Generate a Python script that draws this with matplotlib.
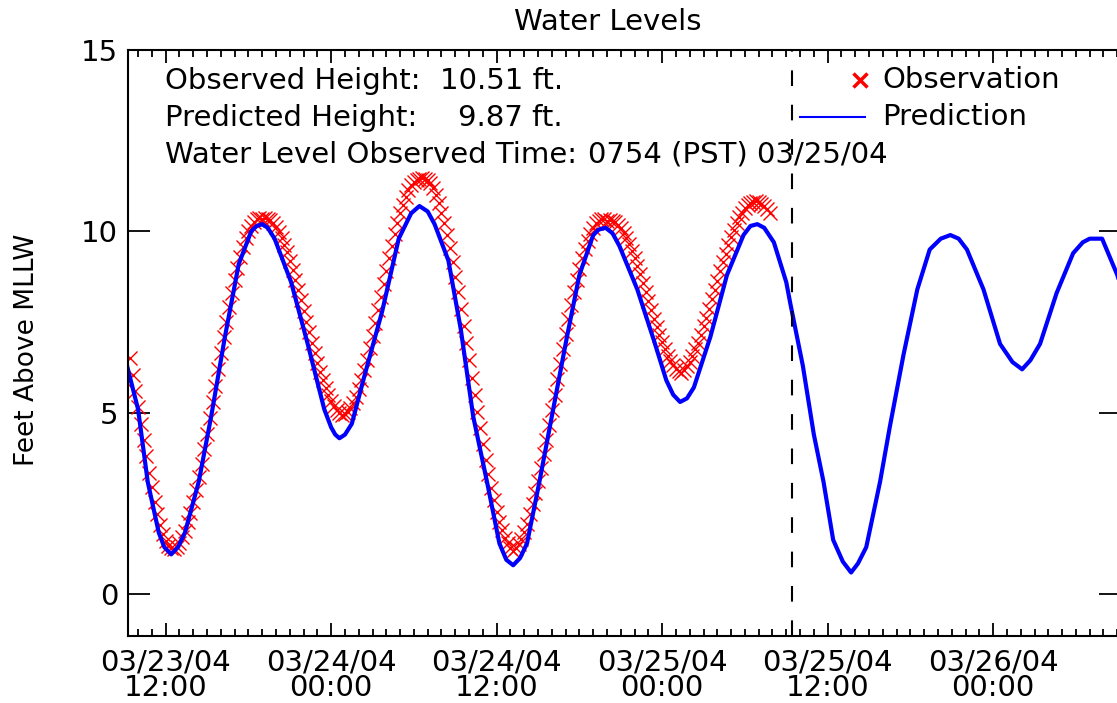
import matplotlib.pyplot as plt
import numpy as np
from matplotlib.lines import Line2D
from matplotlib.ticker import FixedLocator, MultipleLocator

# time axis: hours since 03/23/04 00:00 PST
pred_hours = [9.2, 10.0, 10.7, 11.5, 11.9, 12.4, 12.9, 13.4, 14.4, 15.3,
              16.3, 17.3, 18.2, 18.6, 19.0, 19.4, 19.9, 21.1, 22.3, 23.5,
              24.0, 24.3, 24.6, 25.0, 25.5, 26.4, 27.7, 28.9, 29.8, 30.4,
              31.0, 31.5, 32.5, 33.4, 34.3, 35.3, 36.2, 36.7, 37.2, 37.7,
              38.2, 39.1, 40.1, 41.1, 42.0, 43.0, 43.4, 43.9, 44.4, 44.9,
              46.2, 47.4, 48.3, 48.8, 49.3, 49.8, 50.3, 51.5, 52.7, 53.9,
              54.4, 54.9, 55.4, 56.1, 57.0, 57.3, 58.2, 59.0, 59.7, 60.4,
              61.1, 61.7, 62.2, 62.8, 63.8, 64.5, 65.5, 66.5, 67.4, 68.2,
              68.9, 69.5, 70.1, 71.3, 72.5, 73.4, 74.1, 74.7, 75.4, 76.6,
              77.8, 78.5, 79.0, 79.9, 81.0, 81.4]
pred_ft = [6.3, 5.1, 3.1, 1.7, 1.3, 1.1, 1.3, 1.7, 3.1, 4.9,
           7.1, 9.1, 10.0, 10.15, 10.2, 10.1, 9.8, 8.6, 6.9, 5.1,
           4.6, 4.4, 4.3, 4.4, 4.7, 6.0, 7.8, 9.8, 10.5, 10.7,
           10.55, 10.2, 9.2, 7.3, 4.9, 3.1, 1.4, 0.95, 0.8, 1.0,
           1.4, 3.1, 5.1, 7.1, 8.8, 9.9, 10.05, 10.1, 9.95, 9.6,
           8.4, 7.0, 5.9, 5.5, 5.3, 5.4, 5.7, 7.1, 8.8, 9.9,
           10.15, 10.2, 10.1, 9.7, 8.6, 8.0, 6.3, 4.4, 3.1, 1.5,
           0.9, 0.6, 0.85, 1.3, 3.1, 4.6, 6.6, 8.4, 9.5, 9.8,
           9.9, 9.8, 9.5, 8.4, 6.9, 6.4, 6.2, 6.45, 6.9, 8.3,
           9.4, 9.7, 9.8, 9.8, 8.8, 8.3]

# observations, one every 12 minutes from 09:24 on 03/23
obs_start = 9.4
obs_step = 0.2
obs_ft = [6.50, 6.05, 5.60, 5.15, 4.70, 4.25, 3.80, 3.35, 2.95, 2.55,
          2.20, 1.90, 1.65, 1.47, 1.34, 1.27, 1.25, 1.31, 1.42, 1.57,
          1.75, 1.98, 2.23, 2.53, 2.86, 3.23, 3.60, 4.01, 4.43, 4.86,
          5.30, 5.75, 6.20, 6.65, 7.08, 7.50, 7.91, 8.29, 8.66, 8.99,
          9.30, 9.57, 9.81, 10.00, 10.15, 10.27, 10.33, 10.37, 10.35, 10.36,
          10.35, 10.31, 10.23, 10.11, 9.98, 9.82, 9.63, 9.42, 9.18, 8.93,
          8.66, 8.39, 8.10, 7.80, 7.51, 7.22, 6.93, 6.66, 6.38, 6.13,
          5.90, 5.68, 5.49, 5.33, 5.19, 5.07, 5.00, 4.95, 4.97, 5.03,
          5.13, 5.27, 5.45, 5.66, 5.90, 6.17, 6.46, 6.79, 7.13, 7.48,
          7.84, 8.20, 8.56, 8.92, 9.27, 9.61, 9.94, 10.23, 10.50, 10.74,
          10.95, 11.13, 11.27, 11.37, 11.43, 11.45, 11.46, 11.45, 11.42, 11.33,
          11.19, 11.01, 10.77, 10.52, 10.22, 9.90, 9.54, 9.15, 8.74, 8.32,
          7.86, 7.40, 6.93, 6.45, 5.97, 5.49, 5.03, 4.58, 4.13, 3.71,
          3.31, 2.93, 2.59, 2.28, 2.00, 1.76, 1.55, 1.40, 1.28, 1.20,
          1.28, 1.39, 1.53, 1.72, 1.94, 2.20, 2.48, 2.78, 3.12, 3.49,
          3.86, 4.26, 4.66, 5.07, 5.50, 5.93, 6.35, 6.77, 7.18, 7.59,
          7.96, 8.32, 8.66, 8.97, 9.26, 9.52, 9.74, 9.94, 10.10, 10.22,
          10.29, 10.33, 10.34, 10.30, 10.32, 10.30, 10.26, 10.19, 10.10, 9.97,
          9.82, 9.66, 9.47, 9.26, 9.05, 8.82, 8.57, 8.33, 8.08, 7.84,
          7.60, 7.37, 7.14, 6.94, 6.75, 6.58, 6.43, 6.32, 6.22, 6.14,
          6.10, 6.18, 6.28, 6.41, 6.56, 6.75, 6.93, 7.15, 7.38, 7.62,
          7.87, 8.13, 8.38, 8.64, 8.90, 9.15, 9.39, 9.63, 9.85, 10.04,
          10.23, 10.39, 10.52, 10.64, 10.73, 10.79, 10.82, 10.83, 10.80, 10.75,
          10.70, 10.62, 10.52]

now_hour = 57.42
tick_hours = [12, 24, 36, 48, 60, 72]
tick_labels = ['03/23/04\n12:00', '03/24/04\n00:00', '03/24/04\n12:00',
               '03/25/04\n00:00', '03/25/04\n12:00', '03/26/04\n00:00']

obs_hours = obs_start + obs_step * np.arange(len(obs_ft))

plt.rcParams['font.family'] = 'DejaVu Sans'
W, H = 1117, 703
fig = plt.figure(figsize=(W / 100, H / 100), dpi=100)
fig.set_facecolor('w')
ax = fig.add_axes([128 / W, 67 / H, 993 / W, 586 / H])

ax.plot(obs_hours, obs_ft, 'x', color='red', ms=10, mew=1.0)
ax.plot(pred_hours, pred_ft, color='blue', lw=3)
ax.axvline(now_hour, color='black', lw=1.5, ls=(0, (7.5, 9)))

ax.set_xlim(9.27, 81.27)
ax.set_ylim(-1.15, 15)
ax.xaxis.set_major_locator(FixedLocator(tick_hours))
ax.set_xticklabels(tick_labels, linespacing=0.9)
ax.xaxis.set_minor_locator(MultipleLocator(1))
ax.set_yticks([0, 5, 10, 15])
ax.tick_params(axis='x', which='major', direction='in', length=9.5,
               width=1.3, top=True, labelsize=21, pad=9)
ax.tick_params(axis='x', which='minor', direction='in', length=5,
               width=1.3, top=True)
ax.tick_params(axis='y', direction='in', length=16, width=1.3,
               right=True, labelsize=21, pad=7)
for s in ax.spines.values():
    s.set_linewidth(1.5)

fig.text(608 / W, 1 - 22 / H, 'Water Levels', ha='center', va='center',
         fontsize=21)
fig.text(27 / W, 1 - 350 / H, 'Feet Above MLLW', rotation=90, ha='center',
         va='center', fontsize=19)

fig.text(165 / W, 1 - 81 / H, 'Observed Height:', va='center', fontsize=21)
fig.text(563 / W, 1 - 81 / H, '10.51 ft.', ha='right', va='center',
         fontsize=21)
fig.text(165 / W, 1 - 118 / H, 'Predicted Height:', va='center', fontsize=21)
fig.text(563 / W, 1 - 118 / H, '9.87 ft.', ha='right', va='center',
         fontsize=21)
fig.text(165 / W, 1 - 155 / H, 'Water Level Observed Time:', va='center',
         fontsize=21)
fig.text(588 / W, 1 - 155 / H, '0754 (PST) 03/25/04', va='center',
         fontsize=21)

# legend drawn by hand, IDL style
fig.add_artist(Line2D([860 / W], [1 - 80 / H], marker='x', color='red',
                      ms=10, mew=2.5, ls='none', transform=fig.transFigure))
fig.add_artist(Line2D([800 / W, 865 / W], [1 - 117 / H, 1 - 117 / H],
                      color='blue', lw=1.5, transform=fig.transFigure))
fig.text(882 / W, 1 - 80 / H, 'Observation', va='center', fontsize=21)
fig.text(882 / W, 1 - 117 / H, 'Prediction', va='center', fontsize=21)

fig.savefig('out.png', dpi=100)
